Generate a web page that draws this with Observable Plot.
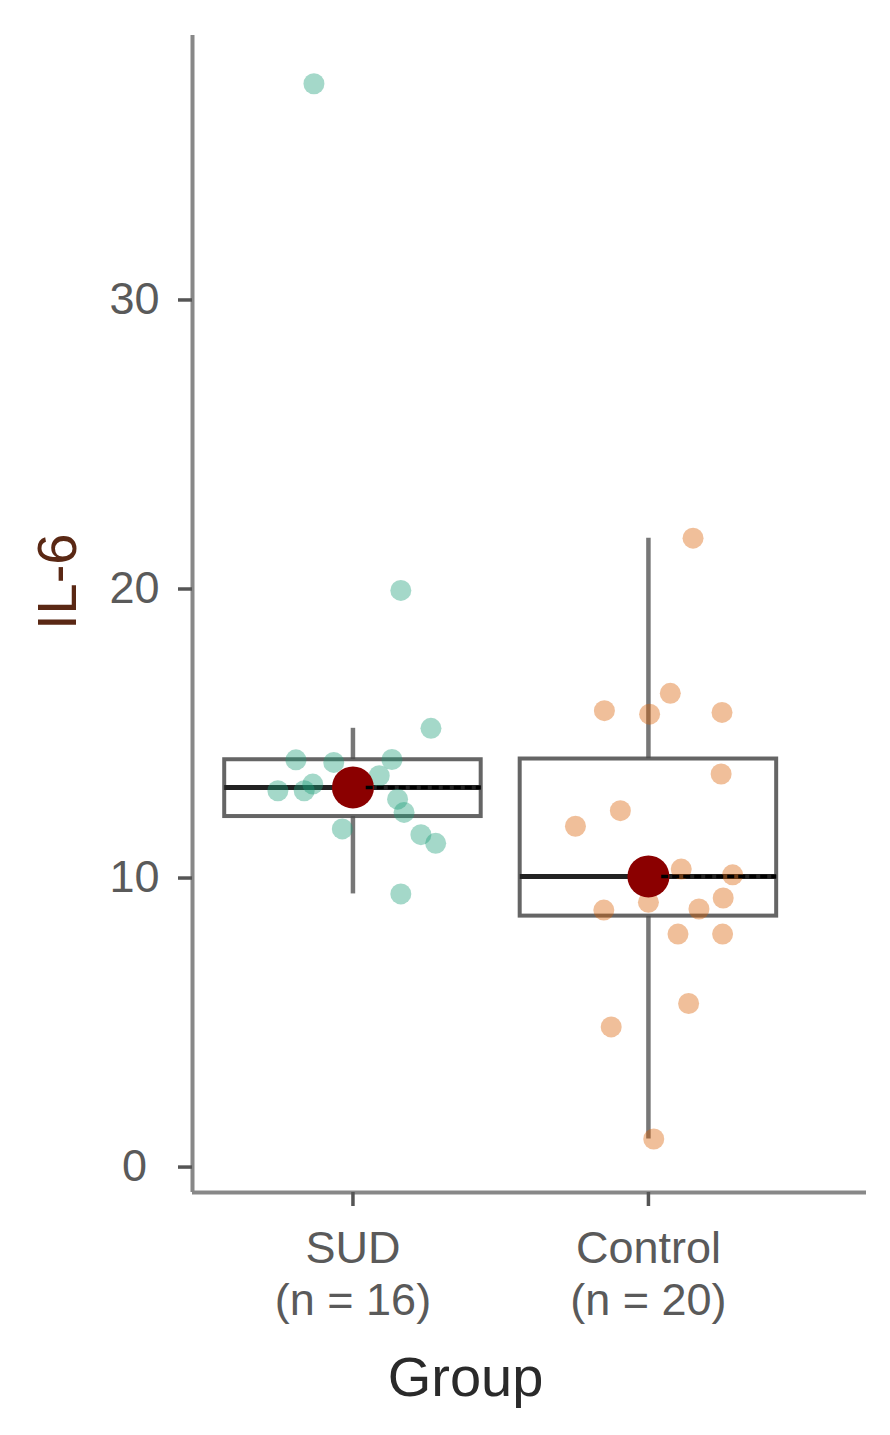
<!DOCTYPE html>
<html><head><meta charset="utf-8">
<script src="https://cdn.jsdelivr.net/npm/d3@7"></script>
<script src="https://cdn.jsdelivr.net/npm/@observablehq/plot@0.6"></script>
<style>body{margin:0;background:#fff} svg{display:block}</style>
</head><body><div id="chart"></div>
<script>
// ---- data ----
const groups = ["SUD", "Control"];
const groupLabels = ["SUD\n(n = 16)", "Control\n(n = 20)"];
const pointColors = ["#1b9e77", "#d95f02"];

const sudValues  = [37.48, 19.95, 15.18, 14.09, 14.00, 14.10, 13.02, 13.25, 13.02, 13.54, 12.73, 12.27, 11.70, 11.50, 11.20, 9.45];
const sudJitter  = [-0.132, 0.162, 0.264, -0.193, -0.065, 0.132, -0.254, -0.136, -0.165, 0.089, 0.151, 0.173, -0.036, 0.230, 0.280, 0.162];

const controlValues = [21.76, 16.39, 15.79, 15.67, 15.73, 13.60, 12.33, 11.79, 10.31, 10.11, 9.31, 9.16, 8.89, 8.93, 8.06, 8.06, 5.66, 4.85, 0.97, 10.00];
const controlJitter = [0.151, 0.074, -0.149, 0.004, 0.249, 0.246, -0.095, -0.247, 0.111, 0.285, 0.253, 0.000, -0.151, 0.171, 0.100, 0.251, 0.136, -0.126, 0.018, -0.010];

const yTicks = [0, 10, 20, 30];
const yLabel = "IL-6";
const xLabel = "Group";

// ---- derived tables ----
const seriesValues = [sudValues, controlValues];
const seriesJitter = [sudJitter, controlJitter];
const rows = [];
seriesValues.forEach((vals, gi) => vals.forEach((v, k) => rows.push({g: gi + 1, name: groups[gi], value: v, jit: seriesJitter[gi][k]})));

const stats = seriesValues.map((vals, gi) => {
  const s = vals.slice().sort(d3.ascending);
  const q1 = d3.quantile(s, 0.25), med = d3.quantile(s, 0.5), q3 = d3.quantile(s, 0.75);
  const iqr = q3 - q1;
  const lo = d3.min(s.filter(v => v >= q1 - 1.5 * iqr));
  const hi = d3.max(s.filter(v => v <= q3 + 1.5 * iqr));
  return {g: gi + 1, q1, med, q3, lo, hi};
});

const halfW = 0.434;
const xDomain = [0.457, 2.738];
const yDomain = [-0.88, 39.15];
const font = "'Liberation Sans', Arial, Helvetica, sans-serif";

const chart = Plot.plot({
  width: 890,
  height: 1435,
  marginLeft: 192,
  marginRight: 24,
  marginTop: 35,
  marginBottom: 243,
  style: {fontFamily: font, fontSize: "45px", background: "#fff", overflow: "visible"},
  x: {type: "linear", domain: xDomain},
  y: {domain: yDomain},
  marks: [
    // whiskers
    Plot.ruleX(stats, {x: "g", y1: "q3", y2: "hi", stroke: "#555", strokeWidth: 4.5, strokeOpacity: 0.8}),
    Plot.ruleX(stats, {x: "g", y1: "lo", y2: "q1", stroke: "#555", strokeWidth: 4.5, strokeOpacity: 0.8}),
    // boxes
    Plot.rect(stats, {x1: d => d.g - halfW, x2: d => d.g + halfW, y1: "q1", y2: "q3", fill: "white", stroke: "#4a4a4a", strokeWidth: 4, strokeOpacity: 0.85}),
    // median line
    Plot.ruleY(stats, {y: "med", x1: d => d.g - halfW, x2: d => d.g + halfW, stroke: "#222", strokeWidth: 5}),
    // jittered points
    Plot.dot(rows, {x: d => d.g + d.jit, y: "value", r: 10.5, fill: d => pointColors[d.g - 1], fillOpacity: 0.4}),
    // median dot
    Plot.dot(stats, {x: "g", y: "med", r: 21, fill: "#8b0000"}),
    Plot.ruleY(stats, {y: "med", x1: d => d.g + 0.045, x2: d => d.g + halfW, stroke: "#000", strokeWidth: 3.5, strokeDasharray: "7,4"}),
    // axis lines
    Plot.ruleX([xDomain[0]], {x: d => d, stroke: "#888", strokeWidth: 4}),
    Plot.ruleY([yDomain[0]], {y: d => d, stroke: "#888", strokeWidth: 4}),
    // axes
    Plot.axisY(yTicks, {anchor: "left", tickSize: 14, tickPadding: 44, textAnchor: "middle", fontSize: 45, stroke: "#555", fill: "#5a5a5a", strokeWidth: 3.5, label: null}),
    Plot.axisX([1, 2], {anchor: "bottom", tickSize: 14, tickPadding: 19, fontSize: 45, lineHeight: 1.16, stroke: "#555", fill: "#5a5a5a", strokeWidth: 3.5, tickFormat: d => groupLabels[d - 1], label: null}),
    // axis titles
    Plot.text([xLabel], {frameAnchor: "bottom", text: d => d, dx: -64, dy: 164, lineAnchor: "top", fontSize: 56, fill: "#2a2a2a"}),
    Plot.text([yLabel], {frameAnchor: "left", text: d => d, rotate: -90, dx: -134.5, dy: 16, fontSize: 56, fill: "#5a2814"})
  ]
});
document.getElementById("chart").append(chart);
</script>
</body></html>
